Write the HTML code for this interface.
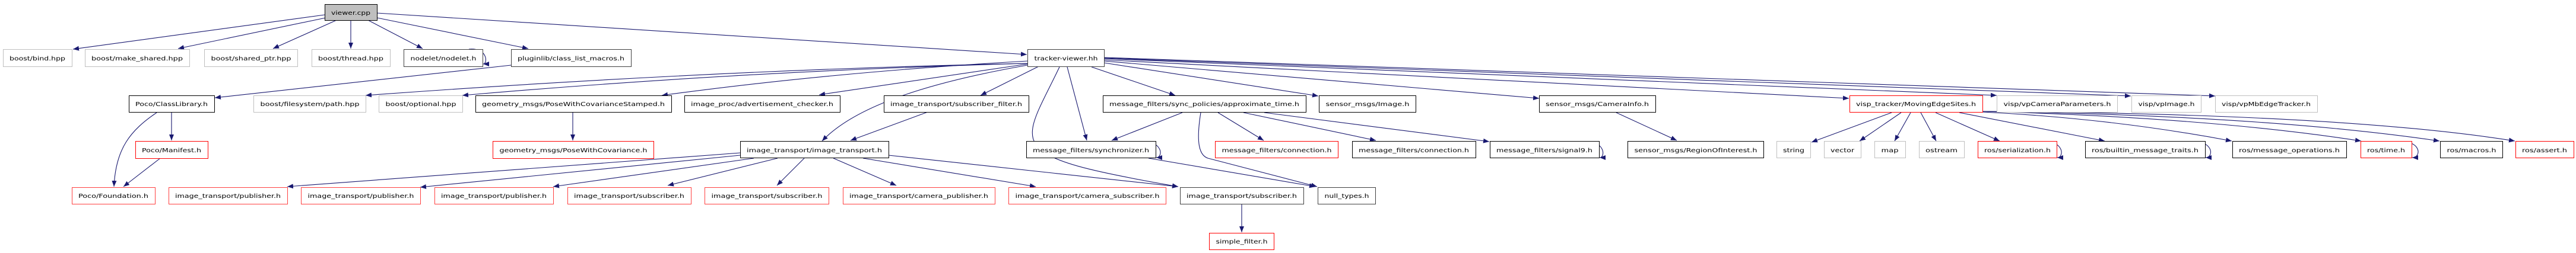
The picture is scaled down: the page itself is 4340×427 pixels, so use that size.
<!DOCTYPE html>
<html><head><meta charset="utf-8"><style>
html,body{margin:0;padding:0;background:#fff;}
svg{display:block;}
text{font-family:"DejaVu Sans","Liberation Sans",sans-serif;font-size:10px;fill:#000;}
.e{fill:none;stroke:#191970;stroke-width:1.1;}
.g{fill:#fff;stroke:#bfbfbf;stroke-width:1;}
.k{fill:#fff;stroke:#000;stroke-width:1;}
.d{fill:#fff;stroke:#404040;stroke-width:1;}
.r{fill:#fff;stroke:#ff0000;stroke-width:1;}
.r2{fill:#fff;stroke:#ff4040;stroke-width:1;}
</style></head><body>
<svg width="4340" height="427" viewBox="0 0 4340 427" xmlns="http://www.w3.org/2000/svg">
<defs>
<marker id="a" markerUnits="userSpaceOnUse" markerWidth="12" markerHeight="10" refX="10" refY="4" orient="auto">
<path d="M0,0 L10,4 L0,8 z" fill="#191970"/>
</marker>
</defs>
<g class="edges" marker-end="url(#a)">
<!-- viewer.cpp -->
<path class="e" d="M547,25 L123,83"/>
<path class="e" d="M549,30 L300,82"/>
<path class="e" d="M567,34 L460,82"/>
<path class="e" d="M591,34 L591,82"/>
<path class="e" d="M620,34 L712,82"/>
<path class="e" d="M635,30 L890,82"/>
<path class="e" d="M635,22 L1730,92"/>
<path class="e" d="M861,110 L362,165"/>
<!-- nodelet loop -->
<path class="e" d="M790,83 C822,80 822,108 814,108"/>
<!-- tracker-viewer -->
<path class="e" d="M1731,107 Q1200,118 616,161"/>
<path class="e" d="M1731,107 Q1250,120 779,161"/>
<path class="e" d="M1731,103 Q1400,122 1115,161"/>
<path class="e" d="M1731,108 L1380,160"/>
<path class="e" d="M1731,110 C1560,140 1440,180 1385,238"/>
<path class="e" d="M1750,112 L1652,161"/>
<path class="e" d="M1785,113 C1720,250 1680,262 1985,315"/>
<path class="e" d="M1798,113 L1831,237"/>
<path class="e" d="M1839,113 L1980,161"/>
<path class="e" d="M1860,106 L2221,162"/>
<path class="e" d="M1860,103 L2593,166"/>
<path class="e" d="M1860,101 L3115,166"/>
<path class="e" d="M1860,99 L3364,161"/>
<path class="e" d="M1860,98 L3590,162"/>
<path class="e" d="M1860,97 L3732,162"/>
<!-- row2 -> row3 -->
<path class="e" d="M289,189 L289,237"/>
<path class="e" d="M264,190 C220,220 195,250 192,315"/>
<path class="e" d="M270,267 L208,315"/>
<path class="e" d="M965,189 L965,237"/>
<path class="e" d="M1563,189 L1433,237"/>
<path class="e" d="M1992,190 L1873,237"/>
<path class="e" d="M2052,190 L2129,237"/>
<path class="e" d="M2095,190 L2318,237"/>
<path class="e" d="M2130,190 L2509,239"/>
<path class="e" d="M2023,190 C2015,240 2020,262 2035,267 L2219,315"/>
<path class="e" d="M1935,267 L2216,315"/>
<path class="e" d="M2723,190 L2825,237"/>
<path class="e" d="M3187,190 L3052,240"/>
<path class="e" d="M3203,190 L3133,238"/>
<path class="e" d="M3219,190 L3192,238"/>
<path class="e" d="M3236,190 L3262,238"/>
<path class="e" d="M3261,190 L3369,238"/>
<path class="e" d="M3301,190 L3546,238"/>
<path class="e" d="M3340,189 Q3560,200 3760,238"/>
<path class="e" d="M3340,188 Q3720,198 3978,238"/>
<path class="e" d="M3340,188 Q3820,195 4110,238"/>
<path class="e" d="M3340,188 Q3950,192 4237,238"/>
<!-- self loops -->
<path class="e" d="M1920,239 C1960,236 1960,266 1948,266"/>
<path class="e" d="M2667,239 C2705,236 2705,266 2695,266"/>
<path class="e" d="M3440,239 C3478,236 3478,266 3466,266"/>
<path class="e" d="M3690,239 C3730,236 3730,266 3716,266"/>
<path class="e" d="M4040,239 C4080,236 4080,266 4064,266"/>
<!-- image_transport.h -> row4 -->
<path class="e" d="M1247,258 L484,315"/>
<path class="e" d="M1247,262 L708,316"/>
<path class="e" d="M1270,267 L932,315"/>
<path class="e" d="M1310,267 L1125,313"/>
<path class="e" d="M1355,267 L1309,313"/>
<path class="e" d="M1404,267 L1510,313"/>
<path class="e" d="M1454,267 L1745,315"/>
<path class="e" d="M1497,262 L1985,315"/>
<path class="e" d="M2092,344 L2092,392"/>
</g>
<g class="nodes">
<rect class="k" x="547.5" y="7.5" width="88" height="27" style="fill:#bfbfbf"/><text x="591" y="25" text-anchor="middle" textLength="66" lengthAdjust="spacingAndGlyphs">viewer.cpp</text>

<rect class="g" x="5.5" y="83.5" width="116" height="29"/><text x="63" y="102" text-anchor="middle" textLength="94" lengthAdjust="spacingAndGlyphs">boost/bind.hpp</text>
<rect class="g" x="143.5" y="83.5" width="176" height="29"/><text x="231" y="102" text-anchor="middle" textLength="154" lengthAdjust="spacingAndGlyphs">boost/make_shared.hpp</text>
<rect class="g" x="344.5" y="83.5" width="157" height="29"/><text x="423" y="102" text-anchor="middle" textLength="135" lengthAdjust="spacingAndGlyphs">boost/shared_ptr.hpp</text>
<rect class="g" x="525.5" y="83.5" width="132" height="29"/><text x="591" y="102" text-anchor="middle" textLength="110" lengthAdjust="spacingAndGlyphs">boost/thread.hpp</text>
<rect class="d" x="680.5" y="83.5" width="133" height="29"/><text x="747" y="102" text-anchor="middle" textLength="111" lengthAdjust="spacingAndGlyphs">nodelet/nodelet.h</text>
<rect class="d" x="861.5" y="83.5" width="202" height="29"/><text x="962" y="102" text-anchor="middle" textLength="180" lengthAdjust="spacingAndGlyphs">pluginlib/class_list_macros.h</text>
<rect class="d" x="1731.5" y="83.5" width="129" height="29"/><text x="1796" y="102" text-anchor="middle" textLength="107" lengthAdjust="spacingAndGlyphs">tracker-viewer.hh</text>

<rect class="k" x="217.5" y="161.5" width="144" height="28"/><text x="289" y="179" text-anchor="middle" textLength="122" lengthAdjust="spacingAndGlyphs">Poco/ClassLibrary.h</text>
<rect class="g" x="427.5" y="161.5" width="189" height="28"/><text x="522" y="179" text-anchor="middle" textLength="167" lengthAdjust="spacingAndGlyphs">boost/filesystem/path.hpp</text>
<rect class="g" x="638.5" y="161.5" width="141" height="28"/><text x="709" y="179" text-anchor="middle" textLength="119" lengthAdjust="spacingAndGlyphs">boost/optional.hpp</text>
<rect class="k" x="801.5" y="161.5" width="330" height="28"/><text x="966" y="179" text-anchor="middle" textLength="308" lengthAdjust="spacingAndGlyphs">geometry_msgs/PoseWithCovarianceStamped.h</text>
<rect class="k" x="1153.5" y="161.5" width="262" height="28"/><text x="1284" y="179" text-anchor="middle" textLength="240" lengthAdjust="spacingAndGlyphs">image_proc/advertisement_checker.h</text>
<rect class="k" x="1489.5" y="161.5" width="244" height="28"/><text x="1611" y="179" text-anchor="middle" textLength="222" lengthAdjust="spacingAndGlyphs">image_transport/subscriber_filter.h</text>
<rect class="k" x="1858.5" y="161.5" width="342" height="28"/><text x="2029" y="179" text-anchor="middle" textLength="320" lengthAdjust="spacingAndGlyphs">message_filters/sync_policies/approximate_time.h</text>
<rect class="k" x="2222.5" y="161.5" width="163" height="28"/><text x="2304" y="179" text-anchor="middle" textLength="141" lengthAdjust="spacingAndGlyphs">sensor_msgs/Image.h</text>
<rect class="k" x="2593.5" y="161.5" width="196" height="28"/><text x="2691" y="179" text-anchor="middle" textLength="174" lengthAdjust="spacingAndGlyphs">sensor_msgs/CameraInfo.h</text>
<rect class="r" x="3116.5" y="161.5" width="224" height="28"/><text x="3228" y="179" text-anchor="middle" textLength="202" lengthAdjust="spacingAndGlyphs">visp_tracker/MovingEdgeSites.h</text>
<rect class="g" x="3364.5" y="161.5" width="203" height="28"/><text x="3466" y="179" text-anchor="middle" textLength="181" lengthAdjust="spacingAndGlyphs">visp/vpCameraParameters.h</text>
<rect class="g" x="3591.5" y="161.5" width="117" height="28"/><text x="3650" y="179" text-anchor="middle" textLength="95" lengthAdjust="spacingAndGlyphs">visp/vpImage.h</text>
<rect class="g" x="3732.5" y="161.5" width="172" height="28"/><text x="3818" y="179" text-anchor="middle" textLength="150" lengthAdjust="spacingAndGlyphs">visp/vpMbEdgeTracker.h</text>

<rect class="r" x="228.5" y="238.5" width="122" height="29"/><text x="289" y="257" text-anchor="middle" textLength="100" lengthAdjust="spacingAndGlyphs">Poco/Manifest.h</text>
<rect class="r" x="830.5" y="238.5" width="271" height="29"/><text x="966" y="257" text-anchor="middle" textLength="249" lengthAdjust="spacingAndGlyphs">geometry_msgs/PoseWithCovariance.h</text>
<rect class="k" x="1247.5" y="238.5" width="250" height="28"/><text x="1372" y="257" text-anchor="middle" textLength="228" lengthAdjust="spacingAndGlyphs">image_transport/image_transport.h</text>
<rect class="k" x="1729.5" y="238.5" width="218" height="28"/><text x="1838" y="257" text-anchor="middle" textLength="196" lengthAdjust="spacingAndGlyphs">message_filters/synchronizer.h</text>
<rect class="r" x="2047.5" y="238.5" width="207" height="28"/><text x="2151" y="257" text-anchor="middle" textLength="185" lengthAdjust="spacingAndGlyphs">message_filters/connection.h</text>
<rect class="k" x="2278.5" y="238.5" width="208" height="28"/><text x="2382" y="257" text-anchor="middle" textLength="186" lengthAdjust="spacingAndGlyphs">message_filters/connection.h</text>
<rect class="k" x="2510.5" y="238.5" width="184" height="28"/><text x="2602" y="257" text-anchor="middle" textLength="162" lengthAdjust="spacingAndGlyphs">message_filters/signal9.h</text>
<rect class="k" x="2742.5" y="238.5" width="229" height="28"/><text x="2857" y="257" text-anchor="middle" textLength="207" lengthAdjust="spacingAndGlyphs">sensor_msgs/RegionOfInterest.h</text>
<rect class="g" x="2993.5" y="238.5" width="57" height="28"/><text x="3022" y="257" text-anchor="middle" textLength="36" lengthAdjust="spacingAndGlyphs">string</text>
<rect class="g" x="3073.5" y="238.5" width="62" height="28"/><text x="3104" y="257" text-anchor="middle" textLength="40" lengthAdjust="spacingAndGlyphs">vector</text>
<rect class="g" x="3158.5" y="238.5" width="52" height="28"/><text x="3184" y="257" text-anchor="middle" textLength="29" lengthAdjust="spacingAndGlyphs">map</text>
<rect class="g" x="3233.5" y="238.5" width="76" height="28"/><text x="3271" y="257" text-anchor="middle" textLength="54" lengthAdjust="spacingAndGlyphs">ostream</text>
<rect class="r" x="3332.5" y="238.5" width="133" height="28"/><text x="3399" y="257" text-anchor="middle" textLength="112" lengthAdjust="spacingAndGlyphs">ros/serialization.h</text>
<rect class="k" x="3513.5" y="238.5" width="202" height="28"/><text x="3614" y="257" text-anchor="middle" textLength="180" lengthAdjust="spacingAndGlyphs">ros/builtin_message_traits.h</text>
<rect class="k" x="3761.5" y="238.5" width="192" height="28"/><text x="3857" y="257" text-anchor="middle" textLength="170" lengthAdjust="spacingAndGlyphs">ros/message_operations.h</text>
<rect class="r" x="3977.5" y="238.5" width="86" height="28"/><text x="4020" y="257" text-anchor="middle" textLength="64" lengthAdjust="spacingAndGlyphs">ros/time.h</text>
<rect class="k" x="4111.5" y="238.5" width="105" height="28"/><text x="4164" y="257" text-anchor="middle" textLength="83" lengthAdjust="spacingAndGlyphs">ros/macros.h</text>
<rect class="r" x="4238.5" y="238.5" width="98" height="28"/><text x="4287" y="257" text-anchor="middle" textLength="76" lengthAdjust="spacingAndGlyphs">ros/assert.h</text>

<rect class="r2" x="121.5" y="316.5" width="140" height="28"/><text x="191" y="334" text-anchor="middle" textLength="118" lengthAdjust="spacingAndGlyphs">Poco/Foundation.h</text>
<rect class="r2" x="284.5" y="316.5" width="200" height="28"/><text x="384" y="334" text-anchor="middle" textLength="178" lengthAdjust="spacingAndGlyphs">image_transport/publisher.h</text>
<rect class="r2" x="507.5" y="316.5" width="201" height="28"/><text x="608" y="334" text-anchor="middle" textLength="179" lengthAdjust="spacingAndGlyphs">image_transport/publisher.h</text>
<rect class="r2" x="732.5" y="316.5" width="200" height="28"/><text x="832" y="334" text-anchor="middle" textLength="178" lengthAdjust="spacingAndGlyphs">image_transport/publisher.h</text>
<rect class="r2" x="956.5" y="316.5" width="208" height="28"/><text x="1060" y="334" text-anchor="middle" textLength="186" lengthAdjust="spacingAndGlyphs">image_transport/subscriber.h</text>
<rect class="r2" x="1187.5" y="316.5" width="209" height="28"/><text x="1292" y="334" text-anchor="middle" textLength="187" lengthAdjust="spacingAndGlyphs">image_transport/subscriber.h</text>
<rect class="r2" x="1420.5" y="316.5" width="256" height="28"/><text x="1548" y="334" text-anchor="middle" textLength="234" lengthAdjust="spacingAndGlyphs">image_transport/camera_publisher.h</text>
<rect class="r2" x="1699.5" y="316.5" width="265" height="28"/><text x="1832" y="334" text-anchor="middle" textLength="243" lengthAdjust="spacingAndGlyphs">image_transport/camera_subscriber.h</text>
<rect class="d" x="1988.5" y="316.5" width="208" height="28"/><text x="2092" y="334" text-anchor="middle" textLength="186" lengthAdjust="spacingAndGlyphs">image_transport/subscriber.h</text>
<rect class="d" x="2220.5" y="316.5" width="97" height="28"/><text x="2269" y="334" text-anchor="middle" textLength="75" lengthAdjust="spacingAndGlyphs">null_types.h</text>

<rect class="r" x="2037.5" y="393.5" width="109" height="28"/><text x="2092" y="411" text-anchor="middle" textLength="87" lengthAdjust="spacingAndGlyphs">simple_filter.h</text>
</g>
</svg>
</body></html>
